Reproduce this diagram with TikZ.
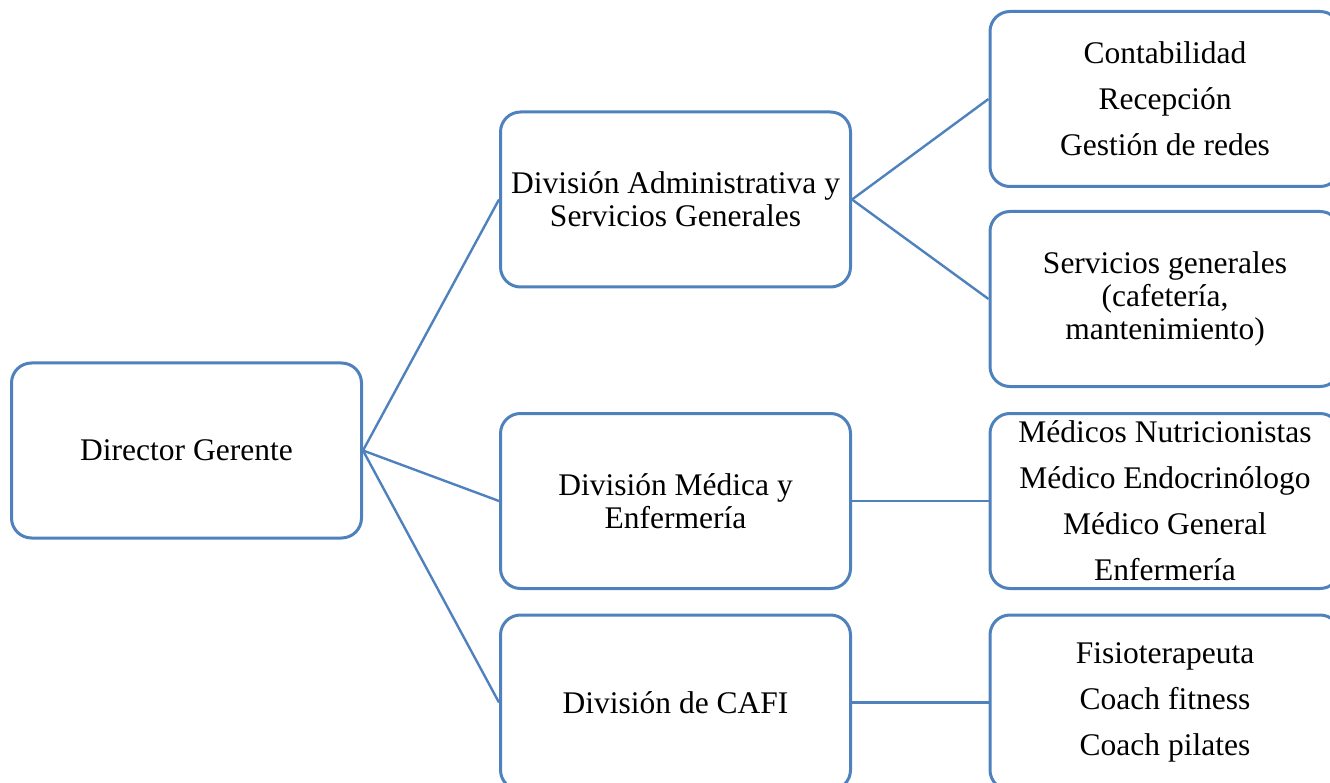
\documentclass[tikz,border=0pt]{standalone}
\usepackage{fontspec}
\setmainfont{Liberation Serif}
\definecolor{lineblue}{RGB}{79,129,189}
\begin{document}
\begin{tikzpicture}[x=1pt,y=-1pt,
  box/.style={draw=lineblue, line width=3pt, rounded corners=20pt, fill=white,
    minimum width=350pt, minimum height=175pt, align=center, inner sep=0pt,
    font=\fontsize{31.5}{33}\selectfont},
  link/.style={draw=lineblue, line width=2.4pt}]
\useasboundingbox (0,0) rectangle (1330,783);
\clip (0,0) rectangle (1330,783);
\node[box] (dir) at (186.5,450.5) {Director Gerente};
\node[box] (adm) at (675.5,199.5) {División Administrativa y\\Servicios Generales};
\node[box] (med) at (675.5,501) {División Médica y\\Enfermería};
\node[box] (cafi) at (675.5,702.5) {División de CAFI};
\node[box] (cont) at (1165,99) {Contabilidad\\[13pt]Recepción\\[13pt]Gestión de redes};
\node[box] (serv) at (1165,299) {Servicios generales\\(cafetería,\\mantenimiento)};
\node[box] (medl) at (1165,501) {Médicos Nutricionistas\\[13pt] Médico Endocrinólogo\\[13pt]Médico General\\[13pt]Enfermería};
\node[box] (fis) at (1165,702.5) {Fisioterapeuta\\[13pt]Coach fitness\\[13pt]Coach pilates};
\draw[link] (dir.east) -- (adm.west);
\draw[link] (dir.east) -- (med.west);
\draw[link] (dir.east) -- (cafi.west);
\draw[link] (adm.east) -- (cont.west);
\draw[link] (adm.east) -- (serv.west);
\draw[link] (med.east) -- (medl.west);
\draw[link] (cafi.east) -- (fis.west);
\end{tikzpicture}
\end{document}
